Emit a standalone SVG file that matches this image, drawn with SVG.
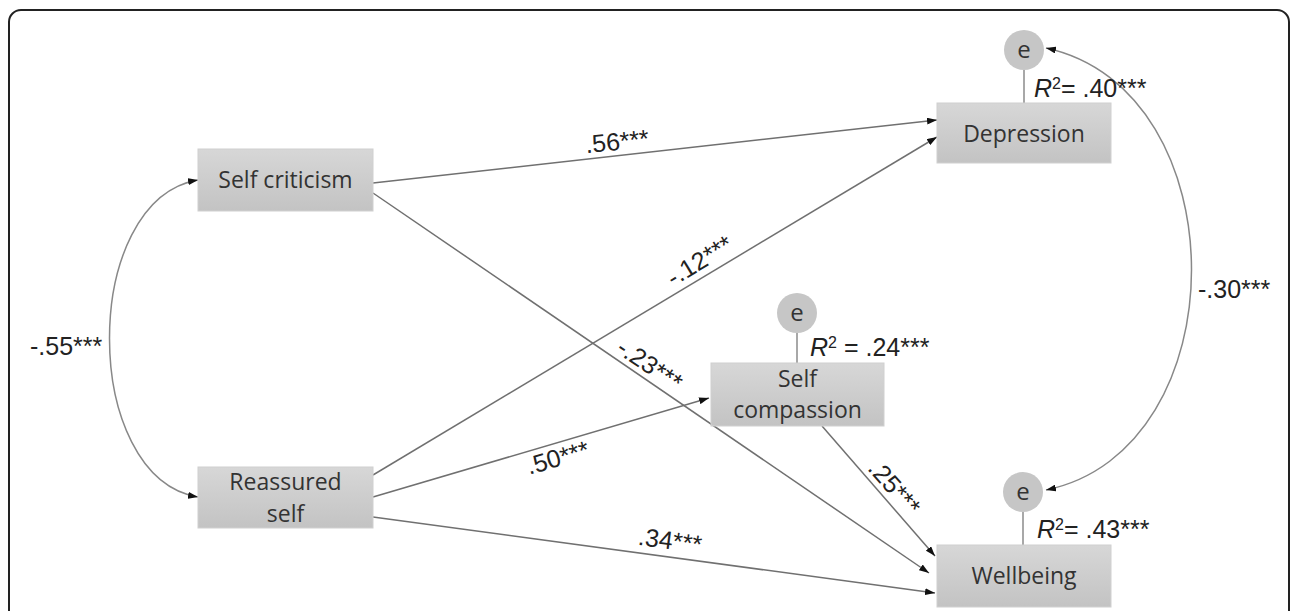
<svg xmlns="http://www.w3.org/2000/svg" width="1292" height="611" viewBox="0 0 1292 611">
<defs>
<linearGradient id="boxg" x1="0" y1="0" x2="0" y2="1">
<stop offset="0" stop-color="#d7d7d7"/>
<stop offset="1" stop-color="#c3c3c3"/>
</linearGradient>
<marker id="arr" viewBox="0 0 10 7" refX="10" refY="3.5" markerWidth="10" markerHeight="7" markerUnits="userSpaceOnUse" orient="auto-start-reverse">
<path d="M0,0 L10,3.5 L0,7 z" fill="#111"/>
</marker>
</defs>
<style>
.box{fill:url(#boxg);stroke:#d0d0d0;stroke-width:1}
.bt{font-family:"Open Sans","Noto Sans",sans-serif;font-size:23px;fill:#333;text-anchor:middle}
.err{fill:#c6c6c6}
.et{font-family:"Open Sans","Noto Sans",sans-serif;font-size:24px;fill:#333;text-anchor:middle}
.stem{stroke:#a8a8a8;stroke-width:2}
.lbl{font-family:"Liberation Sans",Arial,sans-serif;font-size:25px;fill:#222}
.mid{text-anchor:middle}
.ln{fill:none;stroke:#707070;stroke-width:1.5;marker-end:url(#arr)}
.cv{fill:none;stroke:#888;stroke-width:1.5;marker-start:url(#arr);marker-end:url(#arr)}
</style>
<rect width="1292" height="611" fill="#fff"/>
<rect x="9" y="10" width="1280" height="720" rx="12" ry="12" fill="none" stroke="#222" stroke-width="2"/>

<g id="connectors">
<path class="ln" d="M373,183 L937,120"/>
<path class="ln" d="M373,193 L929,573"/>
<path class="ln" d="M373,475 L937,137"/>
<path class="ln" d="M373,497 L709,398"/>
<path class="ln" d="M373,517 L935,593"/>
<path class="ln" d="M822,426 L935,556"/>
<path class="cv" d="M198,180 C80,200 80,477 198,497"/>
<path class="cv" d="M1046,48 C1240,90 1240,450 1046,490"/>
<text class="lbl" x="30" y="355">-.55***</text>
<text class="lbl" x="1198" y="298">-.30***</text>
<text class="lbl mid" transform="translate(618,150) rotate(-6)">.56***</text>
<text class="lbl mid" transform="translate(704,268) rotate(-31.5)">-.12***</text>
<text class="lbl mid" transform="translate(645,372) rotate(34)">-.23***</text>
<text class="lbl mid" transform="translate(560,466) rotate(-16)">.50***</text>
<text class="lbl mid" transform="translate(669,549) rotate(7.5)">.34***</text>
<text class="lbl mid" transform="translate(888,493) rotate(48.5)">.25***</text>
</g>

<g id="self-criticism">
<rect class="box" x="198" y="149" width="175" height="62"/>
<text class="bt" x="285.5" y="188">Self criticism</text>
</g>

<g id="reassured-self">
<rect class="box" x="198" y="467" width="175" height="61"/>
<text class="bt" x="285.5" y="490">Reassured</text>
<text class="bt" x="285.5" y="522">self</text>
</g>

<g id="depression">
<line class="stem" x1="1024" y1="70" x2="1024" y2="103"/>
<circle class="err" cx="1024" cy="50" r="20"/>
<text class="et" x="1024" y="58">e</text>
<rect class="box" x="937" y="103" width="174" height="60"/>
<text class="bt" x="1024" y="142">Depression</text>
<text class="lbl" x="1034" y="97"><tspan font-style="italic">R</tspan><tspan font-size="16" dy="-8">2</tspan><tspan dy="8">= .40***</tspan></text>
</g>

<g id="self-compassion">
<line class="stem" x1="797" y1="333" x2="797" y2="363"/>
<circle class="err" cx="797" cy="313" r="20"/>
<text class="et" x="797" y="321">e</text>
<rect class="box" x="711" y="363" width="173" height="63"/>
<text class="bt" x="797.5" y="387">Self</text>
<text class="bt" x="797.5" y="418">compassion</text>
<text class="lbl" x="810" y="356"><tspan font-style="italic">R</tspan><tspan font-size="16" dy="-8">2</tspan><tspan dy="8"> = .24***</tspan></text>
</g>

<g id="wellbeing">
<line class="stem" x1="1023" y1="512" x2="1023" y2="545"/>
<circle class="err" cx="1023" cy="492" r="20"/>
<text class="et" x="1023" y="500">e</text>
<rect class="box" x="937" y="545" width="174" height="62"/>
<text class="bt" x="1024" y="584">Wellbeing</text>
<text class="lbl" x="1037" y="538"><tspan font-style="italic">R</tspan><tspan font-size="16" dy="-8">2</tspan><tspan dy="8">= .43***</tspan></text>
</g>
</svg>
